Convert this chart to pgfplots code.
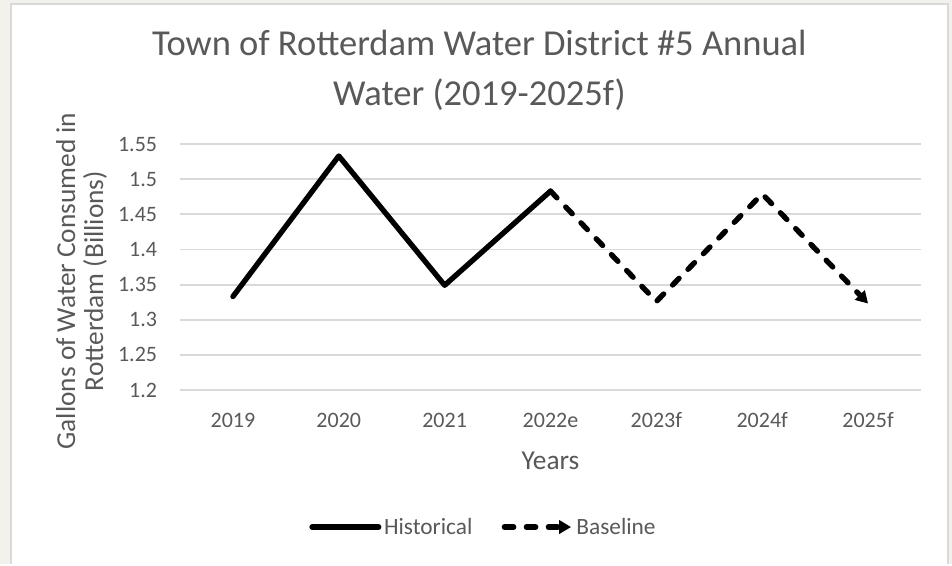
\documentclass[border=0pt]{standalone}
\usepackage{fontspec}
\setmainfont{Carlito}
\usepackage{pgfplots}
\pgfplotsset{compat=1.18}
\usetikzlibrary{arrows.meta}

\definecolor{txt}{HTML}{595959}
\definecolor{gridc}{HTML}{D9D9D9}
\definecolor{page}{HTML}{F3F1EC}

\begin{document}
\begin{tikzpicture}[x=1pt,y=1pt]
  % 1 px of the reference = 0.75pt; the axis box starts at (0,0)
  \fill[page] (-135,-130.5) rectangle (579,292.5);
  \fill[white] (-126.75,-130.5) rectangle (576,289.5);
  \draw[gridc, line width=1.5pt] (-126.75,-130.5) -- (-126.75,289.5) -- (576,289.5) -- (576,-130.5);

  \begin{axis}[
    at={(0,0)}, anchor=south west,
    scale only axis, width=555.75pt, height=184.5pt,
    xmin=-0.5, xmax=6.5, ymin=1.2, ymax=1.55,
    xtick={0,...,6},
    xticklabels={2019,2020,2021,2022e,2023f,2024f,2025f},
    ytick={1.2,1.25,1.3,1.35,1.4,1.45,1.5,1.55},
    yticklabels={1.2,1.25,1.3,1.35,1.4,1.45,1.5,1.55},
    major tick length=0pt,
    axis line style={draw=none},
    ymajorgrids, grid style={gridc, line width=1.4pt},
    /pgf/number format/assume math mode=true,
    ticklabel style={font=\fontsize{16.5}{20}\selectfont, text=txt, inner sep=0pt},
    yticklabel style={anchor=east, xshift=-17pt},
    xticklabel style={anchor=center, yshift=-22.5pt},
    title={Town of Rotterdam Water District \#5 Annual\\Water (2019-2025f)},
    title style={at={(0.404,1.268)}, anchor=center, align=center,
      font=\fontsize{27.4}{37.5}\selectfont, text=txt},
    xlabel={Years},
    xlabel style={at={(0.5,-0.289)}, anchor=center,
      font=\fontsize{20.5}{21}\selectfont, text=txt},
    ylabel={Gallons of Water Consumed in\\Rotterdam (Billions)},
    ylabel style={at={(-0.133,0.443)}, anchor=center, align=center,
      font=\fontsize{20.5}{21}\selectfont, text=txt},
    legend style={draw=none, fill=none, at={(0.41,-0.557)}, anchor=center,
      font=\fontsize{17.5}{20}\selectfont, text=txt,
      nodes={inner sep=2pt},
      /tikz/every even column/.append style={column sep=20pt}},
    legend columns=2,
    legend image code/.code={\draw[#1] (0pt,0pt) -- (50pt,0pt);},
    clip=false,
  ]
    \addplot[black, line width=4pt, line join=round, line cap=round] coordinates {
      (0,1.333) (1,1.533) (2,1.349) (3,1.483)
    };
    \addlegendentry{Historical}
    \addplot[black, line width=4pt, line join=round, line cap=round,
      dash pattern=on 7pt off 9.5pt,
      -{Triangle[length=9pt, width=10pt]}] coordinates {
      (3,1.483) (4,1.326) (5,1.479) (6,1.323)
    };
    \addlegendentry{Baseline}
  \end{axis}
\end{tikzpicture}
\end{document}
